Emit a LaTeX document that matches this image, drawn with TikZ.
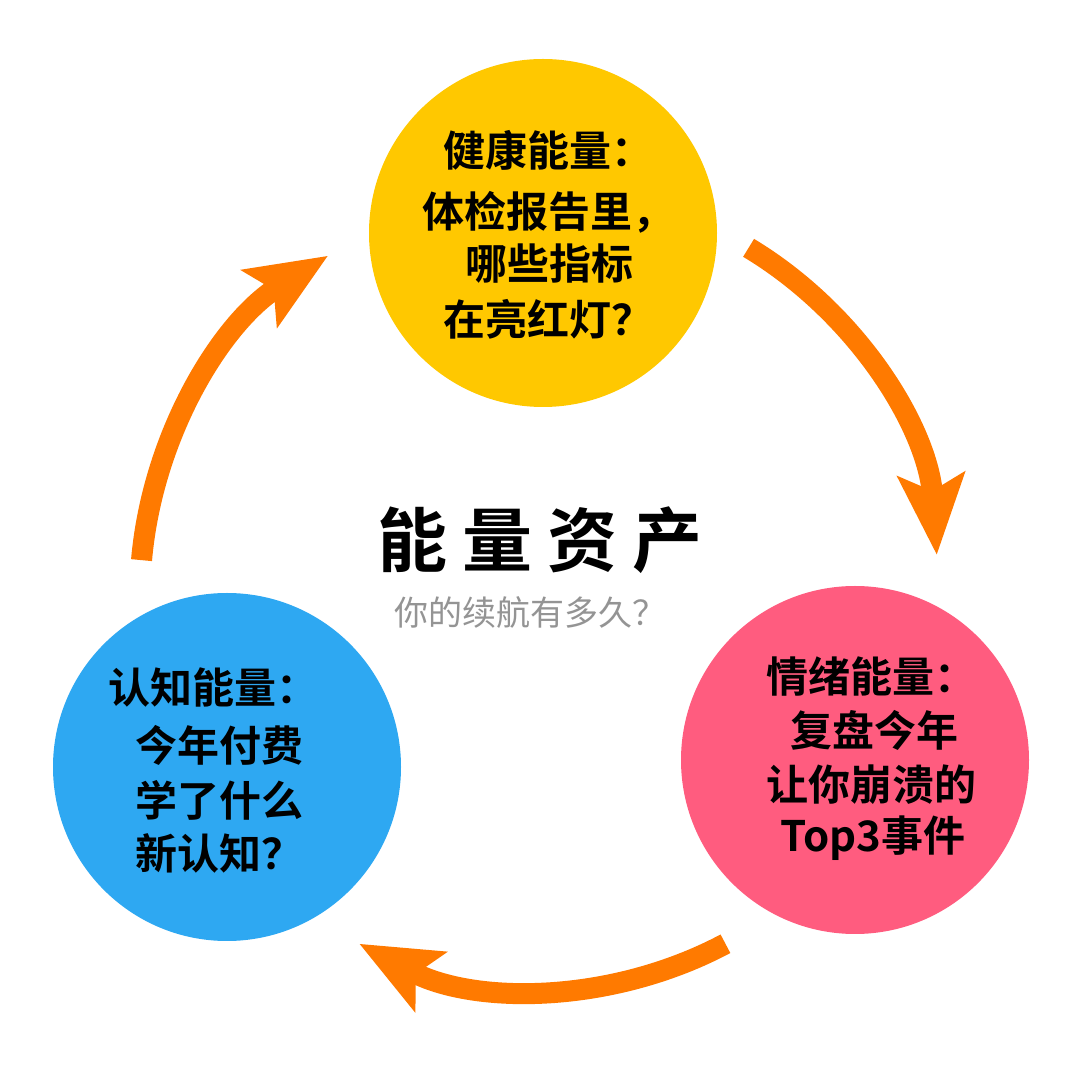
\documentclass[tikz,border=0pt]{standalone}
\usepackage{fontspec}
\setmainfont{Noto Sans CJK SC}
\newfontfamily\cjkb{Noto Sans CJK SC Bold}
\usetikzlibrary{arrows.meta,calc}
\definecolor{cy}{HTML}{FFC800}
\definecolor{cp}{HTML}{FF5C7F}
\definecolor{cb}{HTML}{2EA8F2}
\definecolor{co}{HTML}{FF7A00}
\tikzset{
 bub/.style={circle,minimum size=348pt,inner sep=0pt},
 ln/.style={anchor=west,font=\cjkb\fontsize{42}{42}\selectfont,inner sep=0pt},
 cyc/.style={co,line width=21pt,-{Stealth[length=80pt,width=66pt,inset=16pt]}}
}
\begin{document}
\begin{tikzpicture}[x=1pt,y=1pt]
\useasboundingbox[fill=white] (0,0) rectangle (1080,1080);
\node[bub,fill=cy] (h) at (543,847) {};
\node[bub,fill=cp] (e) at (855,320) {};
\node[bub,fill=cb] (c) at (227,313) {};
\coordinate (o) at (540,485);
\draw[cyc] ($(o)+(59:405)$) arc (59:4:390);
\draw[cyc] ($(o)+(-62:395)$) arc (-62:-118:390);
\draw[cyc] ($(o)+(175:400)$) arc (175:122:400);
\node[ln] (h1) at (443,930) {健康能量：};
\node[ln] (h2) at (422,868) {体检报告里，};
\node[ln] (h3) at (465,816) {哪些指标};
\node[ln] (h4) at (443,761) {在亮红灯？};
\node[ln] (e1) at (766,403) {情绪能量：};
\node[ln] (e2) at (790,350) {复盘今年};
\node[ln] (e3) at (766,295) {让你崩溃的};
\node[ln] (e4) at (780,242) {Top3事件};
\node[ln] (c1) at (108,392) {认知能量：};
\node[ln] (c2) at (135,335) {今年付费};
\node[ln] (c3) at (135,280) {学了什么};
\node[ln] (c4) at (135,227) {新认知？};
\node[font=\cjkb\fontsize{70}{70}\selectfont,inner sep=0pt] (t) at (540,540) {能\hspace{15pt}量\hspace{15pt}资\hspace{15pt}产};
\node[font=\fontsize{34}{34}\selectfont,text=black!42,inner sep=0pt] (s) at (530,467) {你的续航有多久？};
\end{tikzpicture}
\end{document}
